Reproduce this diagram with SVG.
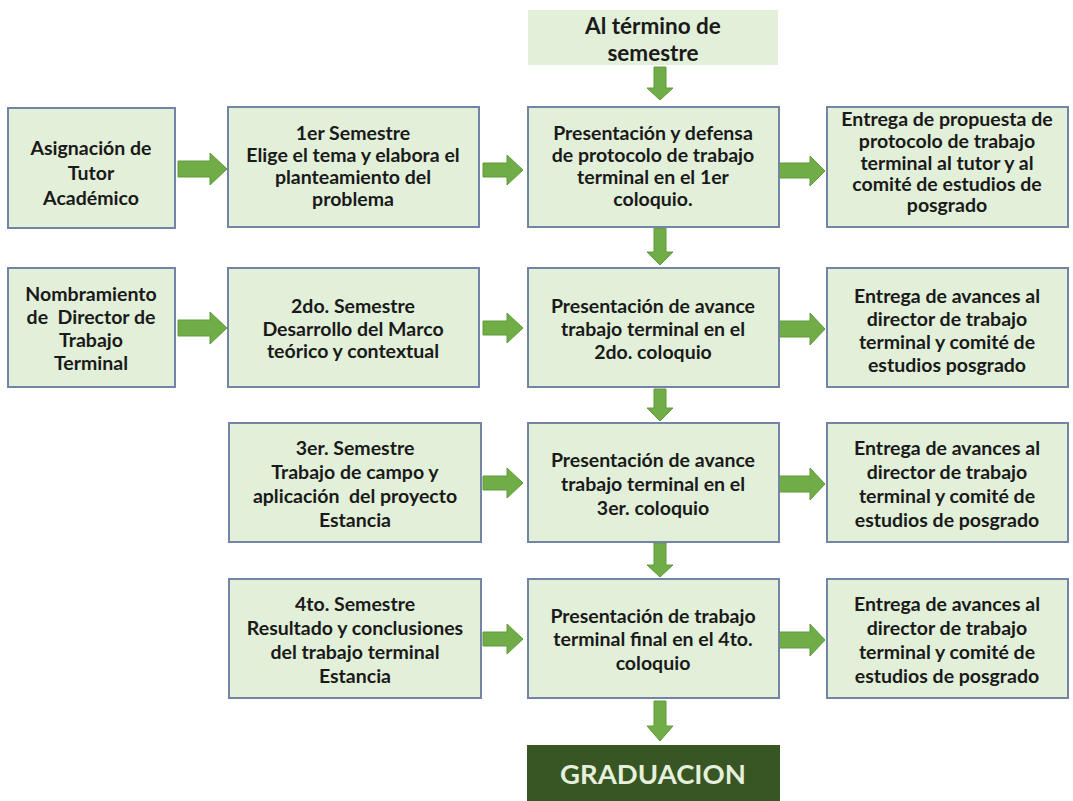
<svg xmlns="http://www.w3.org/2000/svg" width="1073" height="801" viewBox="0 0 1073 801">
<style>
.box{fill:#e2efd9;stroke:#7384a6;stroke-width:2}
.top{fill:#e2efd9}
.grad{fill:#375623}
.t{font-family:Lato,"Liberation Sans",sans-serif;font-weight:bold;font-size:19.5px;fill:#1a1a1a;text-anchor:middle;dominant-baseline:central}
.tt{font-size:22.5px}
.g{font-family:Lato,"Liberation Sans",sans-serif;font-weight:bold;font-size:27.5px;fill:#e6efdc;text-anchor:middle;dominant-baseline:central}
.arr{fill:#70ad47;stroke:#5f9a3a;stroke-width:1}
</style>
<rect width="1073" height="801" fill="#ffffff"/>

<g id="connectors">
<path class="arr" d="M654,67 H666 V88 H673 L660,100 L647,88 H654 Z"/>
<path class="arr" d="M178,161 H210 V153 L227,169 L210,185 V177 H178 Z"/>
<path class="arr" d="M483,163 H507 V155 L523,170 L507,185 V177 H483 Z"/>
<path class="arr" d="M778,163 H810 V156 L825,171 L810,186 V178 H778 Z"/>
<path class="arr" d="M654,228 H666 V252 H673 L660,265 L647,252 H654 Z"/>
<path class="arr" d="M178,320 H210 V312 L227,328 L210,344 V336 H178 Z"/>
<path class="arr" d="M483,321 H507 V313 L523,328 L507,343 V335 H483 Z"/>
<path class="arr" d="M778,321 H810 V313 L825,329 L810,345 V337 H778 Z"/>
<path class="arr" d="M654,389 H666 V408 H673 L660,421 L647,408 H654 Z"/>
<path class="arr" d="M483,476 H507 V468 L523,483 L507,498 V490 H483 Z"/>
<path class="arr" d="M778,476 H810 V468 L825,484 L810,500 V492 H778 Z"/>
<path class="arr" d="M654,543 H666 V565 H673 L660,577 L647,565 H654 Z"/>
<path class="arr" d="M483,632 H507 V624 L523,639 L507,654 V646 H483 Z"/>
<path class="arr" d="M778,632 H810 V624 L825,640 L810,656 V648 H778 Z"/>
<path class="arr" d="M654,701 H666 V726 H673 L660,741 L647,726 H654 Z"/>
</g>

<g id="n-top">
<rect class="top" x="528" y="10" width="250" height="55"/>
<text class="t tt" x="653" y="25">Al término de</text>
<text class="t tt" x="653" y="52">semestre</text>
</g>

<g id="n-asignacion">
<rect class="box" x="8" y="108" width="167" height="120"/>
<text class="t" x="91" y="147">Asignación de</text>
<text class="t" x="91" y="172">Tutor</text>
<text class="t" x="91" y="197">Académico</text>
</g>
<g id="n-sem1">
<rect class="box" x="228" y="107" width="251" height="120"/>
<text class="t" x="353" y="132">1er Semestre</text>
<text class="t" x="353" y="154">Elige el tema y elabora el</text>
<text class="t" x="353" y="176">planteamiento del</text>
<text class="t" x="353" y="198">problema</text>
</g>
<g id="n-pres1">
<rect class="box" x="528" y="107" width="251" height="120"/>
<text class="t" x="653" y="132">Presentación y defensa</text>
<text class="t" x="653" y="154">de protocolo de trabajo</text>
<text class="t" x="653" y="176">terminal en el 1er</text>
<text class="t" x="653" y="198">coloquio.</text>
</g>
<g id="n-ent1">
<rect class="box" x="827" y="107" width="241" height="120"/>
<text class="t" x="947" y="118">Entrega de propuesta de</text>
<text class="t" x="947" y="140">protocolo de trabajo</text>
<text class="t" x="947" y="162">terminal al tutor y al</text>
<text class="t" x="947" y="183">comité de estudios de</text>
<text class="t" x="947" y="204">posgrado</text>
</g>

<g id="n-nombramiento">
<rect class="box" x="8" y="268" width="167" height="119"/>
<text class="t" x="91" y="293">Nombramiento</text>
<text class="t" x="91" y="316" xml:space="preserve">de  Director de</text>
<text class="t" x="91" y="339">Trabajo</text>
<text class="t" x="91" y="362">Terminal</text>
</g>
<g id="n-sem2">
<rect class="box" x="228" y="268" width="251" height="119"/>
<text class="t" x="353" y="305">2do. Semestre</text>
<text class="t" x="353" y="328">Desarrollo del Marco</text>
<text class="t" x="353" y="350">teórico y contextual</text>
</g>
<g id="n-pres2">
<rect class="box" x="528" y="268" width="251" height="119"/>
<text class="t" x="653" y="305">Presentación de avance</text>
<text class="t" x="653" y="328">trabajo terminal en el</text>
<text class="t" x="653" y="351">2do. coloquio</text>
</g>
<g id="n-ent2">
<rect class="box" x="827" y="268" width="241" height="119"/>
<text class="t" x="947" y="295">Entrega de avances al</text>
<text class="t" x="947" y="318">director de trabajo</text>
<text class="t" x="947" y="341">terminal y comité de</text>
<text class="t" x="947" y="364">estudios posgrado</text>
</g>

<g id="n-sem3">
<rect class="box" x="229" y="423" width="252" height="119"/>
<text class="t" x="355" y="447">3er. Semestre</text>
<text class="t" x="355" y="471">Trabajo de campo y</text>
<text class="t" x="355" y="495" xml:space="preserve">aplicación  del proyecto</text>
<text class="t" x="355" y="519">Estancia</text>
</g>
<g id="n-pres3">
<rect class="box" x="528" y="423" width="251" height="119"/>
<text class="t" x="653" y="459">Presentación de avance</text>
<text class="t" x="653" y="483">trabajo terminal en el</text>
<text class="t" x="653" y="507">3er. coloquio</text>
</g>
<g id="n-ent3">
<rect class="box" x="827" y="423" width="241" height="119"/>
<text class="t" x="947" y="447">Entrega de avances al</text>
<text class="t" x="947" y="471">director de trabajo</text>
<text class="t" x="947" y="495">terminal y comité de</text>
<text class="t" x="947" y="519">estudios de posgrado</text>
</g>

<g id="n-sem4">
<rect class="box" x="229" y="579" width="252" height="119"/>
<text class="t" x="355" y="603">4to. Semestre</text>
<text class="t" x="355" y="627">Resultado y conclusiones</text>
<text class="t" x="355" y="651">del trabajo terminal</text>
<text class="t" x="355" y="675">Estancia</text>
</g>
<g id="n-pres4">
<rect class="box" x="528" y="579" width="251" height="119"/>
<text class="t" x="653" y="615">Presentación de trabajo</text>
<text class="t" x="653" y="638">terminal final en el 4to.</text>
<text class="t" x="653" y="662">coloquio</text>
</g>
<g id="n-ent4">
<rect class="box" x="827" y="579" width="241" height="119"/>
<text class="t" x="947" y="603">Entrega de avances al</text>
<text class="t" x="947" y="627">director de trabajo</text>
<text class="t" x="947" y="651">terminal y comité de</text>
<text class="t" x="947" y="675">estudios de posgrado</text>
</g>

<g id="n-graduacion">
<rect class="grad" x="527" y="745" width="253" height="60"/>
<text class="g" x="653" y="773">GRADUACION</text>
</g>
</svg>
